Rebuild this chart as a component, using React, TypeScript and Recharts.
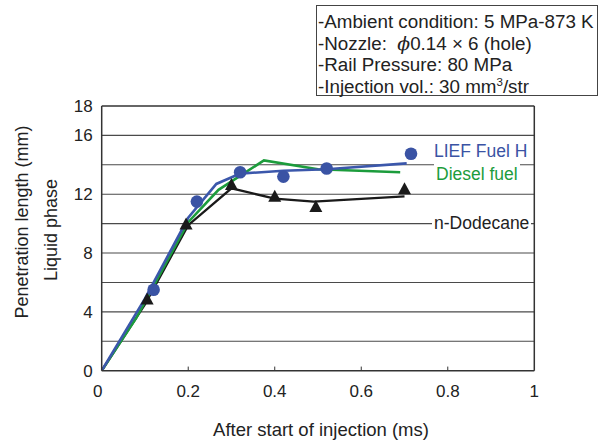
import { ComposedChart, Line, Scatter, XAxis, YAxis, ReferenceLine } from 'recharts';

// axes
const X_TICKS = [0, 0.2, 0.4, 0.6, 0.8, 1];
const X_INNER_TICKS = [0.2, 0.4, 0.6, 0.8];
const Y_TICKS = [0, 4, 8, 12, 16, 18];
const GRID_LEVELS = [2, 4, 6, 8, 10, 12, 14, 16];

// calculated penetration curves (ms, mm)
const fuelHTime = [0, 0.1, 0.2, 0.265, 0.32, 0.42, 0.52, 0.705];
const fuelHCalc = [0, 4.9, 10.4, 12.7, 13.4, 13.6, 13.7, 14.1];
const dieselTime = [0, 0.08, 0.2, 0.27, 0.375, 0.5, 0.69];
const dieselCalc = [0, 3.6, 10.1, 12.3, 14.3, 13.7, 13.5];
const dodecaneTime = [0, 0.1, 0.2, 0.3, 0.4, 0.49, 0.7];
const dodecaneCalc = [0, 4.5, 9.9, 12.4, 11.7, 11.5, 11.85];

// measured points
const fuelHMeasTime = [0.12, 0.22, 0.32, 0.42, 0.52, 0.715];
const fuelHMeas = [5.5, 11.5, 13.5, 13.2, 13.75, 14.75];
const dodecaneMeasTime = [0.105, 0.195, 0.3, 0.4, 0.495, 0.7];
const dodecaneMeas = [4.8, 9.9, 12.6, 11.8, 11.1, 12.3];

const INFO_LINES = [
  '-Ambient condition: 5 MPa-873 K',
  '-Nozzle:  ',
  '-Rail Pressure: 80 MPa',
  '-Injection vol.: 30 mm',
];

const BLUE = '#3a53a4';
const GREEN = '#1c9c3c';
const BLACK = '#1a1a1a';
const TEXT = '#222';

const zip = (xs: number[], ys: number[]) => xs.map((x, i) => ({ x, y: ys[i] }));

const fuelHLine = zip(fuelHTime, fuelHCalc);
const dieselLine = zip(dieselTime, dieselCalc);
const dodecaneLine = zip(dodecaneTime, dodecaneCalc);
const fuelHPoints = zip(fuelHMeasTime, fuelHMeas);
const dodecanePoints = zip(dodecaneMeasTime, dodecaneMeas);

const Dot = (props: any) => <circle cx={props.cx} cy={props.cy} r={6.3} fill={BLUE} />;

const Tri = (props: any) => {
  const { cx, cy } = props;
  return <polygon points={`${cx},${cy - 7.5} ${cx - 6.5},${cy + 4.5} ${cx + 6.5},${cy + 4.5}`} fill={BLACK} />;
};

const XTick = (props: any) => {
  const { x, y, payload } = props;
  const v = payload.value;
  return (
    <text x={x + (v === 0 ? -4 : 0)} y={y} dy="0.71em" textAnchor="middle" fontSize={17} fill={TEXT}>
      {v === 0 ? '0' : String(v)}
    </text>
  );
};

const seriesLabel = (text: string, left: number, top: number, color: string) => (
  <div
    style={{
      position: 'absolute',
      left,
      top,
      lineHeight: '20px',
      fontSize: 17.5,
      color,
      background: '#fff',
      padding: '0 2px',
      whiteSpace: 'nowrap',
    }}
  >
    {text}
  </div>
);

export default function App() {
  return (
    <div
      style={{
        position: 'absolute',
        left: 0,
        top: 0,
        width: 605,
        height: 443,
        background: '#fff',
        fontFamily: '"Liberation Sans", Arial, sans-serif',
        color: TEXT,
      }}
    >
      <ComposedChart width={605} height={443} margin={{ top: 106, right: 70.7, bottom: 32.3, left: 41.7 }}>
        <XAxis
          dataKey="x"
          type="number"
          domain={[0, 1]}
          ticks={X_TICKS}
          tick={<XTick />}
          tickLine={false}
          tickSize={0}
          tickMargin={14}
          height={40}
          axisLine={{ stroke: '#333', strokeWidth: 1.5 }}
          allowDataOverflow
        />
        <YAxis
          dataKey="y"
          type="number"
          domain={[0, 18]}
          ticks={Y_TICKS}
          tick={{ fontSize: 17, fill: TEXT }}
          tickLine={false}
          tickSize={0}
          tickMargin={9}
          width={60}
          axisLine={{ stroke: '#333', strokeWidth: 1.5 }}
          allowDataOverflow
        />
        {GRID_LEVELS.map((g) => (
          <ReferenceLine key={g} y={g} stroke="#4a4a4a" strokeWidth={1.1} />
        ))}
        <ReferenceLine y={18} stroke="#333" strokeWidth={1.5} />
        <ReferenceLine x={1} stroke="#333" strokeWidth={1.5} />
        {X_INNER_TICKS.map((t) => (
          <ReferenceLine
            key={t}
            segment={[
              { x: t, y: 0 },
              { x: t, y: 0.28 },
            ]}
            stroke="#333"
            strokeWidth={1}
          />
        ))}
        <Line data={dodecaneLine} dataKey="y" type="linear" stroke={BLACK} strokeWidth={2.3} dot={false} isAnimationActive={false} />
        <Line data={dieselLine} dataKey="y" type="linear" stroke={GREEN} strokeWidth={2.6} dot={false} isAnimationActive={false} />
        <Line data={fuelHLine} dataKey="y" type="linear" stroke="#3b57ab" strokeWidth={2.6} dot={false} isAnimationActive={false} />
        <Scatter data={dodecanePoints} dataKey="y" shape={<Tri />} isAnimationActive={false} />
        <Scatter data={fuelHPoints} dataKey="y" shape={<Dot />} isAnimationActive={false} />
      </ComposedChart>

      {seriesLabel('LIEF Fuel H', 432, 141, BLUE)}
      {seriesLabel('Diesel fuel', 434, 164, GREEN)}
      {seriesLabel('n-Dodecane', 432, 213, TEXT)}

      {/* test conditions */}
      <div
        style={{
          position: 'absolute',
          left: 316,
          top: 5,
          width: 282,
          height: 91,
          border: '1px solid #444',
          fontSize: 18.8,
          lineHeight: '21.7px',
          paddingTop: 5,
          paddingLeft: 1,
          boxSizing: 'border-box',
          whiteSpace: 'pre',
        }}
      >
        <div>{INFO_LINES[0]}</div>
        <div>
          {INFO_LINES[1]}
          <i style={{ fontFamily: '"DejaVu Serif", serif' }}>ϕ</i>0.14 × 6 (hole)
        </div>
        <div>{INFO_LINES[2]}</div>
        <div>
          {INFO_LINES[3]}
          <sup style={{ fontSize: 11.5, lineHeight: 0 }}>3</sup>/str
        </div>
      </div>

      <div
        style={{
          position: 'absolute',
          left: 321,
          top: 430,
          transform: 'translate(-50%, -50%)',
          fontSize: 18.5,
          whiteSpace: 'nowrap',
        }}
      >
        After start of injection (ms)
      </div>
      <div
        style={{
          position: 'absolute',
          left: 22,
          top: 222,
          transform: 'translate(-50%, -50%) rotate(-90deg)',
          fontSize: 18,
          whiteSpace: 'nowrap',
        }}
      >
        Penetration length (mm)
      </div>
      <div
        style={{
          position: 'absolute',
          left: 51,
          top: 230,
          transform: 'translate(-50%, -50%) rotate(-90deg)',
          fontSize: 18,
          whiteSpace: 'nowrap',
        }}
      >
        Liquid phase
      </div>
    </div>
  );
}
